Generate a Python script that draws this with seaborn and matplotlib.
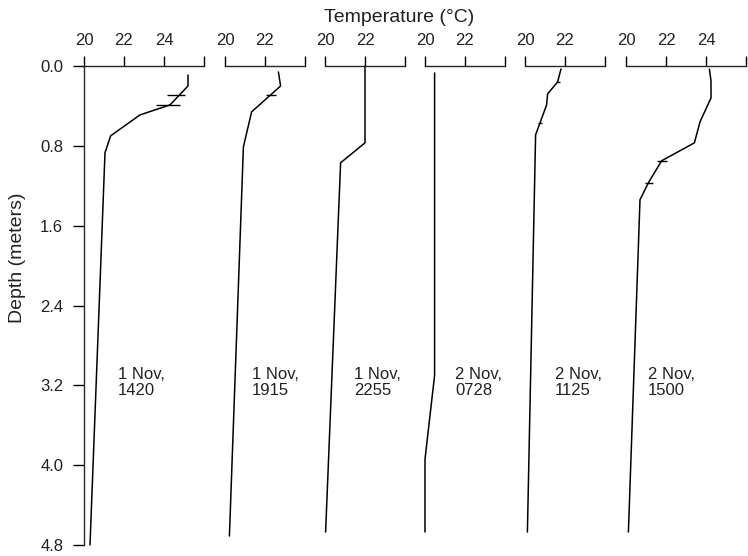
import numpy as np
import seaborn as sns
import matplotlib
matplotlib.use("Agg")
import matplotlib.pyplot as plt

sns.set_style("ticks")
plt.rcParams['font.family'] = ['Liberation Sans', 'DejaVu Sans']

# temperature profiles (deg C) against depth (m), one per time
labels = ["1 Nov,\n1420", "1 Nov,\n1915", "1 Nov,\n2255",
          "2 Nov,\n0728", "2 Nov,\n1125", "2 Nov,\n1500"]

depth1 = [0.09, 0.20, 0.39, 0.49, 0.70, 0.87, 4.80]
temp1 = [25.2, 25.2, 24.3, 22.8, 21.33, 21.05, 20.3]
depth2 = [0.06, 0.20, 0.46, 0.81, 4.71]
temp2 = [22.67, 22.78, 21.33, 20.92, 20.22]
depth3 = [0.0, 0.77, 0.97, 4.67]
temp3 = [22.0, 22.0, 20.78, 20.03]
depth4 = [0.07, 3.1, 3.94, 4.67]
temp4 = [20.48, 20.48, 20.0, 20.0]
depth5 = [0.03, 0.16, 0.28, 0.39, 0.57, 0.69, 4.67]
temp5 = [21.8, 21.63, 21.13, 21.08, 20.75, 20.53, 20.12]
depth6 = [0.03, 0.15, 0.32, 0.56, 0.77, 0.95, 1.17, 1.34, 4.67]
temp6 = [24.17, 24.25, 24.25, 23.7, 23.42, 21.78, 21.12, 20.7, 20.12]

# horizontal error bars: depth, temperature, half width
err_depth = [[0.29, 0.39], [0.29], [], [], [0.16, 0.57], [0.95, 1.17]]
err_temp = [[24.6, 24.2], [22.3], [], [], [21.63, 20.75], [21.8, 21.15]]
err_half = [[0.43, 0.58], [0.23], [], [], [0.1, 0.1], [0.27, 0.21]]

depths = [depth1, depth2, depth3, depth4, depth5, depth6]
temps = [temp1, temp2, temp3, temp4, temp5, temp6]
xmax = [26, 24, 24, 24, 24, 26]
ticklab = [["20", "22", "24", ""], ["20", "22", ""], ["20", "22", ""],
           ["20", "22", ""], ["20", "22", ""], ["20", "22", "24", ""]]
label_x = [21.7, 21.35, 21.45, 21.5, 21.5, 21.1]

W, H = 748, 556
fig = plt.figure(figsize=(W / 100, H / 100), dpi=100)
lefts = [84, 225, 325, 425, 525, 626]

for i in range(6):
    w = (xmax[i] - 20) * 20
    ax = fig.add_axes([lefts[i] / W, (H - 545) / H, w / W, 479 / H])
    sns.lineplot(x=temps[i], y=depths[i], sort=False, estimator=None,
                 color="black", lw=1.1, ax=ax, clip_on=False)
    if err_depth[i]:
        ax.errorbar(err_temp[i], err_depth[i], xerr=err_half[i], fmt="none",
                    ecolor="black", elinewidth=1.0)
    ax.set_xlim(20, xmax[i])
    ax.set_ylim(4.8, 0)
    ax.xaxis.tick_top()
    ax.set_xticks(np.arange(20, xmax[i] + 1, 2))
    ax.set_xticklabels(ticklab[i])
    ax.tick_params(axis="x", direction="out", length=7, width=1, pad=6,
                   labelsize=12, colors="black", labelcolor="#222222")
    ax.text(label_x[i], 3.02, labels[i], fontsize=12, va="top", ha="left",
            color="#222222", linespacing=1.05)
    ax.spines["bottom"].set_visible(False)
    ax.spines["right"].set_visible(False)
    ax.spines["top"].set_linewidth(1)
    if i == 0:
        ax.set_yticks(np.arange(0, 4.81, 0.8))
        ax.set_yticklabels(["%.1f" % v for v in np.arange(0, 4.81, 0.8)])
        ax.tick_params(axis="y", direction="out", length=8, width=1, pad=7,
                       labelsize=12, colors="black", labelcolor="#222222")
        ax.spines["left"].set_linewidth(1)
    else:
        ax.spines["left"].set_visible(False)
        ax.set_yticks([])
    ax.set_xlabel("")
    ax.set_ylabel("")
    ax.patch.set_alpha(0)

fig.text(399 / W, 1 - 17 / H, "Temperature (°C)", ha="center", va="center",
         fontsize=14, color="#222222")
fig.text(18 / W, 1 - 258 / H, "Depth (meters)", ha="center", va="center",
         rotation=90, fontsize=14, color="#222222")

fig.savefig("out.png", dpi=100)
